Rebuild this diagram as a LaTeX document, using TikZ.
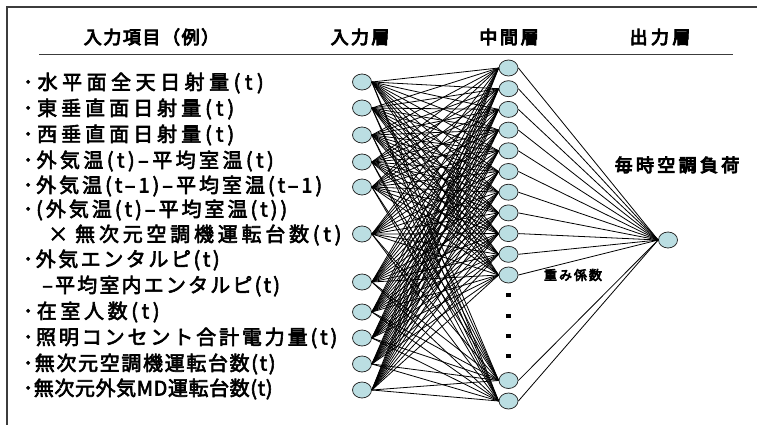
\documentclass[tikz,border=0pt]{standalone}
\usepackage{fontspec}
\setmainfont{Noto Sans CJK JP}
\newfontfamily\jpbold{Noto Sans CJK JP}[FakeBold=3]
\newfontfamily\jpheavy{Noto Sans CJK JP}[FakeBold=5]
\usetikzlibrary{shapes.geometric}
\definecolor{nodefill}{RGB}{187,222,226}
\definecolor{framegray}{RGB}{60,60,60}
\makeatletter
\newlength\fitw
\newcount\fitn
\newcommand\fitto[2]{%
  \settowidth\fitw{#2}%
  \fitn=0
  \@tfor\fit@tok:=#2\do{\advance\fitn by 1\relax}%
  \pgfmathsetmacro\fitls{100*((#1)-\fitw)/(\the\fitn*\f@size)}%
  {\addfontfeature{LetterSpace=\fitls}#2}}
\makeatother
\tikzset{
 neuron/.style={ellipse, draw=black!85, line width=0.75pt, fill=nodefill, minimum width=19pt, minimum height=16pt, inner sep=0pt},
 link/.style={line width=0.8pt, black},
 itemtext/.style={anchor=west, inner sep=0pt, font=\jpbold\fontsize{20}{20}\selectfont},
 headtext/.style={inner sep=0pt, font=\jpheavy\fontsize{18}{18}\selectfont},
 labeltext/.style={inner sep=0pt, font=\jpheavy\fontsize{13}{13}\selectfont},
 dotmark/.style={rectangle, fill=black, minimum size=4.5pt, inner sep=0pt},
 framerule/.style={draw=framegray, line width=1.5pt},
 headrule/.style={draw=framegray, line width=1pt}
}
\begin{document}
\begin{tikzpicture}[x=1pt,y=-1pt]
\useasboundingbox (0,0) rectangle (757,425);
% frame
\draw[framerule] (7,430) -- (7,7) -- (760,7);
\draw[headrule] (39,55) -- (733,55);
% headers
\node[headtext] (hd1) at (151.5,37) {\fitto{137}{入力項目（例）}};
\node[headtext] (hd2) at (360,37) {\fitto{61}{入力層}};
\node[headtext] (hd3) at (509,37) {\fitto{62}{中間層}};
\node[headtext] (hd4) at (660,37) {\fitto{64}{出力層}};
% input items
\node[itemtext] (t1) at (23,83) {\fitto{245}{･水平面全天日射量(t)}};
\node[itemtext] (t2) at (23,109) {\fitto{215}{･東垂直面日射量(t)}};
\node[itemtext] (t3) at (23,135) {\fitto{215}{･西垂直面日射量(t)}};
\node[itemtext] (t4) at (23,161) {\fitto{254}{･外気温(t)–平均室温(t)}};
\node[itemtext] (t5) at (23,186) {\fitto{302}{･外気温(t–1)–平均室温(t–1)}};
\node[itemtext] (t6) at (23,210) {\fitto{267}{･(外気温(t)–平均室温(t))}};
\node[itemtext] (t7) at (48,235) {×\hspace{7pt}\fitto{270}{無次元空調機運転台数(t)}};
\node[itemtext] (t8) at (23,260) {\fitto{199}{･外気エンタルピ(t)}};
\node[itemtext] (t9) at (42,286) {\fitto{240}{–平均室内エンタルピ(t)}};
\node[itemtext] (t10) at (23,312) {\fitto{140}{･在室人数(t)}};
\node[itemtext] (t11) at (23,338) {\fitto{317}{･照明コンセント合計電力量(t)}};
\node[itemtext] (t12) at (23,364) {\fitto{254}{･無次元空調機運転台数(t)}};
\node[itemtext] (t13) at (23,389) {\fitto{250}{･無次元外気MD運転台数(t)}};
% neurons
\foreach \y [count=\i] in {82,108,135,162,187,234,282,312,338,364,390}
  \node[neuron] (in\i) at (362,\y) {};
\foreach \i in {1,...,11}
  \node[neuron] (h\i) at (508.5,{68+(\i-1)*20.7}) {};
\node[neuron] (h12) at (508.5,380.5) {};
\node[neuron] (h13) at (508.5,401) {};
\node[neuron] (out) at (668,240) {};
% dots
\foreach \y [count=\k] in {295,316,336,356}
  \node[dotmark] (d\k) at (508.5,\y) {};
% connections
\foreach \i in {1,...,11}
  \foreach \j in {1,...,13}
    \draw[link] (in\i.east) -- (h\j.west);
\foreach \j in {1,...,13}
  \draw[link] (h\j.east) -- (out.west);
% labels
\node[headtext] (lbl1) at (677,165) {\fitto{128}{毎時空調負荷}};
\node[labeltext] (lbl2) at (573,275) {\fitto{60}{重み係数}};
\end{tikzpicture}
\end{document}
